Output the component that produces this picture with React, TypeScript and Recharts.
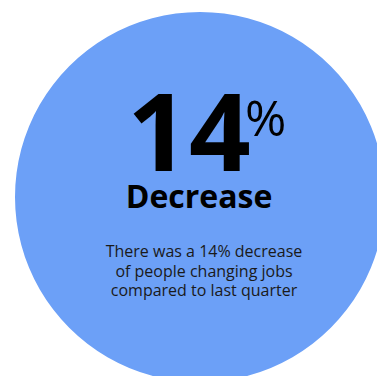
import { PieChart, Pie, Cell, Label } from 'recharts'

const slices = ['Decrease']
const values = [100]
const headline = '14'
const unit = '%'
const caption = 'Decrease'
const bodyLines = ['There was a 14% decrease', 'of people changing jobs', 'compared to last quarter']

const data = slices.map((name, i) => ({ name, value: values[i] }))

const font = '"Open Sans", sans-serif'

// all centre texts, drawn on top of the circle
const CenterText = () => (
  <g>
    <text x={189} y={171} textAnchor="middle" fontFamily={font} fontWeight={700} fontSize={108} fill="#000">
      {headline}
    </text>
    <text x={245} y={136} textAnchor="start" fontFamily={font} fontWeight={400} fontSize={50} fill="#000">
      {unit}
    </text>
    <text x={199} y={208} textAnchor="middle" fontFamily={font} fontWeight={700} fontSize={32} fill="#000">
      {caption}
    </text>
    {bodyLines.map((line, i) => (
      <text key={line} x={204} y={257 + i * 19.5} textAnchor="middle" fontFamily={font} fontSize={16} fill="#1a1a1a">
        {line}
      </text>
    ))}
  </g>
)

export default function App() {
  return (
    <div style={{ position: 'absolute', left: 0, top: 0, width: 377, height: 376, overflow: 'hidden' }}>
      <PieChart width={377} height={376} margin={{ top: 0, right: 0, bottom: 0, left: 0 }}>
        <Pie
          data={data}
          dataKey="value"
          cx={200}
          cy={197}
          outerRadius={185}
          innerRadius={0}
          startAngle={90}
          endAngle={-270}
          stroke="none"
          isAnimationActive={false}
        >
          {data.map((d) => (
            <Cell key={d.name} fill="#6ca0f7" />
          ))}
          <Label position="center" content={<CenterText />} />
        </Pie>
      </PieChart>
    </div>
  )
}
